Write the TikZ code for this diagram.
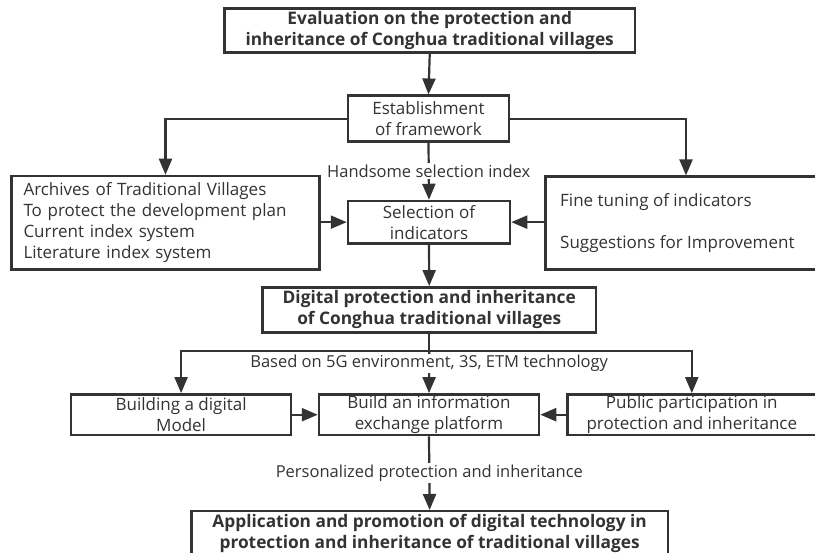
\documentclass[tikz,border=0pt]{standalone}
\usepackage{fontspec}
\setmainfont{Open Sans}
\usetikzlibrary{arrows.meta}
\definecolor{ink}{HTML}{333333}
\tikzset{
  box/.style={draw=ink, line width=2.5pt, text=ink, inner sep=0pt, align=center,
              font=\fontsize{17}{21}\selectfont},
  boldbox/.style={box, font=\fontsize{17.3}{21}\selectfont\bfseries},
  link/.style={draw=ink, line width=2.2pt, -{Triangle[length=16pt,width=13pt]}},
  plain/.style={draw=ink, line width=2.2pt},
  tag/.style={fill=white, text=ink, inner sep=1.5pt, font=\fontsize{16.5}{19}\selectfont}
}
\begin{document}
\begin{tikzpicture}[x=1pt,y=-1pt]
\useasboundingbox (0,0) rectangle (815,553);
\fill[white] (0,0) rectangle (815,553);
\clip (0,0) rectangle (815,553);

% boxes (centre, size)
\node[boldbox, minimum width=410.5pt, minimum height=44pt] (top) at (429.75,30.3)
  {Evaluation on the protection and\\inheritance of Conghua traditional villages};
\node[box, minimum width=161pt, minimum height=46pt] (est) at (428.5,118.7)
  {Establishment\\of framework};
\node[box, minimum width=308pt, minimum height=93.3pt, align=left, text width=284pt] (arch) at (165.5,222.65)
  {Archives of Traditional Villages\\To protect the development plan\\Current index system\\Literature index system};
\node[box, minimum width=162pt, minimum height=42.3pt] (sel) at (429,222.15)
  {Selection of\\indicators};
\node[box, minimum width=280.6pt, minimum height=92.6pt] (fine) at (686,223) {};
\node[text=ink, anchor=west, align=left, inner sep=0pt, font=\fontsize{17}{21}\selectfont] (finetxt) at (560,223.5)
  {Fine tuning of indicators\\[21pt]Suggestions for Improvement};
\node[boldbox, minimum width=333.5pt, minimum height=45pt] (dig) at (429.25,309.8)
  {Digital protection and inheritance\\of Conghua traditional villages};
\node[box, minimum width=219.8pt, minimum height=40.7pt] (bld) at (181.1,414.7)
  {Building a digital\\Model};
\node[box, minimum width=220pt, minimum height=40.7pt] (info) at (429,414.7)
  {Build an information\\exchange platform};
\node[box, minimum width=248.4pt, minimum height=40.7pt] (pub) at (691.8,414.7)
  {Public participation in\\protection and inheritance};
\node[boldbox, minimum width=476.7pt, minimum height=60pt, anchor=north] (fin) at (429.65,510)
  {};
\node[text=ink, align=center, inner sep=0pt, font=\fontsize{17.3}{21}\selectfont\bfseries] (fintxt) at (429.65,533)
  {Application and promotion of digital technology in\\protection and inheritance of traditional villages};

% connectors
\draw[link] (top.south) -- (est.north);
\draw[link] (est.west) -| (arch.north);
\draw[link] (est.east) -| (fine.north);
\draw[link] (est.south) -- node[tag, pos=0.5] {Handsome selection index} (sel.north);
\draw[link] (arch.east |- sel.west) -- (sel.west);
\draw[link] (fine.west |- sel.east) -- (sel.east);
\draw[link] (sel.south) -- (dig.north);

\coordinate (fork) at (429.25,350.7);
\draw[plain] (dig.south) -- (fork);
\draw[link] (fork) -| (bld.north);
\draw[link] (fork) -| (pub.north);
\draw[link] (fork) -- node[tag, pos=0.3] {Based on 5G environment, 3S, ETM technology} (info.north);
\draw[link] (bld.east) -- (info.west);
\draw[link] (pub.west) -- (info.east);
\draw[link] (info.south) -- node[tag, pos=0.5] {Personalized protection and inheritance} (fin.north);
\end{tikzpicture}
\end{document}
